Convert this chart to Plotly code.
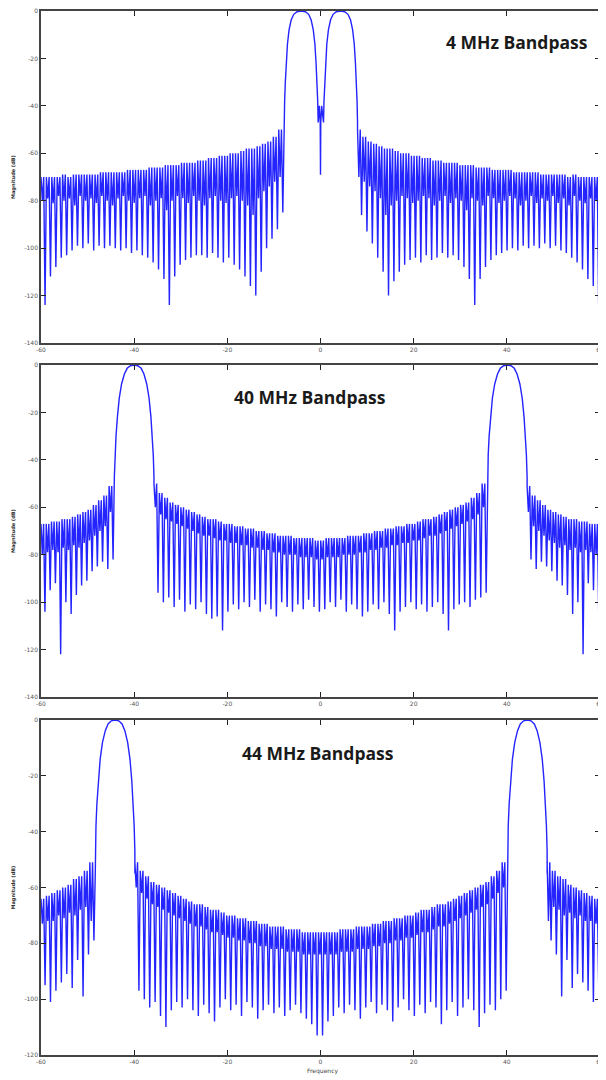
import plotly.graph_objects as go
from plotly.subplots import make_subplots

# ---------------- data ----------------
titles = ["4 MHz Bandpass", "40 MHz Bandpass", "44 MHz Bandpass"]
x_ticks = [-60, -40, -20, 0, 20, 40, 60]
y_ticks_12 = [0, -20, -40, -60, -80, -100, -120, -140]
y_ticks_3 = [0, -20, -40, -60, -80, -100, -120]

# passband lobe shapes: frequency offsets from lobe centre (MHz) and level (dB)
lobe_db = [-47, -38, -30, -22, -14, -8, -3.8, -1.4, -0.3, 0,
           -0.3, -1.4, -3.8, -8, -14, -22, -30, -38, -47]
lobe1_df = [-3.65, -3.55, -3.4, -3.2, -2.95, -2.6, -2.15, -1.6, -0.9, 0,
            0.9, 1.6, 2.15, 2.6, 2.95, 3.2, 3.4, 3.55, 3.65]
lobe23_df = [-4.25, -4.1, -3.9, -3.6, -3.2, -2.7, -2.1, -1.5, -0.8, 0,
             0.8, 1.5, 2.1, 2.7, 3.2, 3.6, 3.9, 4.1, 4.25]

# ---- panel 1 : 4 MHz ----
p1_lobe_centres = [-4.15, 4.3]
p1_notch_f = [-0.25, -0.06, 0.0, 0.06, 0.25]
p1_notch_db = [-40, -47, -69, -47, -40]
p1_left_span = [-60, -7.8]
p1_left_tops = [-70, -70, -70, -70, -69, -70, -69, -69, -69, -69, -69, -68, -68, -68, -68,
                -68, -67, -67, -67, -67, -66, -66, -66, -65, -65, -65, -64, -64, -64, -63,
                -63, -62, -62, -61, -61, -60, -60, -59, -58, -58, -57, -56, -55, -53, -50]
p1_left_dips = [-80, -79, -81, -78, -80, -79, -82, -78, -80, -79, -81, -78, -80, -82, -79,
                -78, -80, -81, -79, -78, -82, -80, -79, -84, -80, -78, -79, -81, -78, -80,
                -82, -79, -78, -80, -81, -79, -78, -80, -82, -86, -79, -76, -74, -72, -70]
p1_left_nulls = [-124, -112, -108, -104, -103, -101, -99, -100, -98, -101, -99, -100, -99, -100, -101,
                 -100, -102, -101, -103, -104, -106, -109, -113, -124, -112, -107, -105, -104, -103, -103,
                 -104, -102, -104, -106, -104, -107, -109, -112, -116, -120, -110, -100, -96, -92, -85]
p1_right_span = [7.95, 60]
p1_right_tops = [-50, -53, -55, -56, -57, -58, -58, -59, -60, -60, -61, -61, -62, -62, -63,
                 -63, -64, -64, -64, -65, -65, -65, -66, -66, -66, -67, -67, -67, -67, -68,
                 -68, -68, -68, -68, -69, -69, -69, -69, -69, -70, -69, -70, -70, -70, -70]
p1_right_dips = [-70, -72, -74, -76, -79, -86, -82, -80, -78, -79, -81, -80, -78, -79, -82,
                 -80, -78, -81, -79, -80, -84, -79, -80, -82, -78, -79, -81, -80, -78, -79,
                 -82, -80, -78, -81, -79, -80, -78, -81, -79, -82, -78, -80, -81, -79, -80]
p1_right_nulls = [-86, -93, -98, -104, -110, -120, -114, -110, -107, -105, -104, -106, -103, -105, -104,
                  -102, -104, -103, -105, -108, -113, -124, -113, -108, -105, -103, -102, -101, -100, -101,
                  -99, -100, -99, -100, -98, -100, -99, -101, -102, -104, -106, -109, -113, -116, -124]

# ---- panel 2 : 40 MHz ----
p2_lobe_centres = [-40.0, 40.1]
p2_left_span = [-60, -44.25]
p2_left_tops = [-67, -67, -66, -66, -65, -65, -64, -63, -62, -61, -59, -57, -55, -51]
p2_left_dips = [-80, -79, -78, -79, -77, -78, -76, -77, -75, -74, -72, -70, -68, -62]
p2_left_nulls = [-104, -95, -92, -122, -100, -105, -97, -93, -91, -87, -85, -83, -86, -82]
p2_mid_span = [-35.75, 35.85]
p2_mid_tops = [-50, -54, -56, -58, -59, -60, -61, -62, -63, -64, -65, -65, -66, -67, -67, -68,
               -68, -69, -69, -70, -70, -71, -71, -72, -72, -72, -73, -73, -73, -73, -74,
               -74, -73, -73, -73, -73, -72, -72, -72, -71, -71, -70, -70, -69, -69, -68, -68,
               -67, -67, -66, -65, -65, -64, -63, -62, -61, -60, -59, -58, -56, -54, -50]
p2_mid_dips = [-60, -63, -65, -66, -67, -68, -69, -70, -71, -72, -72, -73, -74, -74, -75, -75,
               -76, -76, -77, -77, -78, -78, -79, -79, -80, -80, -80, -81, -81, -81, -82,
               -82, -81, -81, -81, -80, -80, -80, -79, -79, -78, -78, -77, -77, -76, -76, -75,
               -75, -74, -74, -73, -72, -72, -71, -70, -69, -68, -67, -66, -65, -63, -60]
p2_mid_nulls = [-96, -100, -98, -102, -99, -104, -101, -103, -100, -105, -107, -106, -112, -104, -101, -103,
                -100, -102, -99, -104, -101, -103, -106, -100, -102, -104, -101, -103, -99, -102, -104,
                -103, -100, -102, -99, -104, -101, -103, -106, -104, -101, -103, -100, -105, -112, -104,
                -102, -100, -103, -101, -104, -102, -100, -105, -112, -103, -101, -100, -102, -99, -98, -96]
p2_right_span = [44.35, 60]
p2_right_tops = [-51, -55, -57, -59, -61, -62, -63, -64, -65, -65, -66, -66, -67, -67]
p2_right_dips = [-62, -68, -70, -72, -74, -75, -77, -76, -78, -77, -79, -78, -79, -80]
p2_right_nulls = [-82, -86, -83, -85, -87, -91, -93, -97, -105, -100, -122, -92, -95, -104]

# ---- panel 3 : 44 MHz ----
p3_lobe_centres = [-44.1, 44.4]
p3_left_span = [-60, -48.35]
p3_left_tops = [-64, -63, -62, -61, -60, -59, -57, -56, -54, -51]
p3_left_dips = [-73, -72, -72, -70, -71, -69, -70, -68, -67, -72]
p3_left_nulls = [-95, -101, -97, -94, -91, -96, -86, -99, -84, -79]
p3_mid_span = [-39.85, 40.15]
p3_mid_tops = [-51, -54, -56, -58, -59, -60, -61, -62, -63, -64, -65, -66, -66, -67, -68, -68, -69,
               -70, -70, -71, -71, -72, -72, -73, -73, -74, -74, -74, -75, -75, -75, -76, -76, -76,
               -76,
               -76, -76, -76, -75, -75, -75, -74, -74, -74, -73, -73, -72, -72, -71, -71, -70, -70,
               -69, -68, -68, -67, -66, -66, -65, -64, -63, -62, -61, -60, -59, -58, -56, -54, -51]
p3_mid_dips = [-60, -62, -64, -66, -67, -68, -69, -70, -71, -72, -73, -74, -74, -75, -76, -76, -77,
               -78, -78, -79, -79, -80, -80, -81, -81, -82, -82, -82, -83, -83, -83, -84, -84, -84,
               -84,
               -84, -84, -84, -83, -83, -83, -82, -82, -82, -81, -81, -80, -80, -79, -79, -78, -78,
               -77, -76, -76, -75, -74, -74, -73, -72, -71, -70, -69, -68, -67, -66, -64, -62, -60]
p3_mid_nulls = [-97, -100, -103, -101, -106, -110, -104, -101, -103, -100, -104, -106, -102, -105, -108, -103, -100,
                -104, -102, -106, -101, -103, -107, -104, -102, -105, -103, -106, -104, -102, -105, -107, -109, -113,
                -113,
                -108, -106, -103, -105, -102, -104, -107, -103, -101, -105, -102, -104, -108, -103, -100, -104, -106,
                -102, -105, -101, -103, -109, -104, -101, -106, -103, -100, -104, -110, -105, -102, -104, -100, -97]
p3_right_span = [48.65, 60]
p3_right_tops = [-51, -54, -56, -57, -59, -60, -61, -62, -63, -64]
p3_right_dips = [-72, -67, -68, -70, -69, -71, -70, -72, -72, -73]
p3_right_nulls = [-79, -84, -99, -86, -96, -91, -94, -97, -101, -95]


# ---------------- helpers ----------------
def sidelobe_region(span, tops, dips, nulls):
    a, b = span
    n = len(tops)
    p = (b - a) / n
    xs, ys = [], []
    for k in range(n):
        xs += [a + k * p, a + (k + 0.25) * p, a + (k + 0.5) * p, a + (k + 0.75) * p]
        ys += [tops[k], dips[k], tops[k], nulls[k]]
    return xs, ys


def lobe(centre, dfs):
    return [centre + d for d in dfs], list(lobe_db)


def build(parts):
    X, Y = [], []
    for xs, ys in parts:
        X += xs
        Y += ys
    return X, Y


x1, y1 = build([
    sidelobe_region(p1_left_span, p1_left_tops, p1_left_dips, p1_left_nulls),
    ([p1_left_span[1]], [-50]),
    lobe(p1_lobe_centres[0], lobe1_df),
    (p1_notch_f, p1_notch_db),
    lobe(p1_lobe_centres[1], lobe1_df),
    sidelobe_region(p1_right_span, p1_right_tops, p1_right_dips, p1_right_nulls),
])
x2, y2 = build([
    sidelobe_region(p2_left_span, p2_left_tops, p2_left_dips, p2_left_nulls),
    lobe(p2_lobe_centres[0], lobe23_df),
    sidelobe_region(p2_mid_span, p2_mid_tops, p2_mid_dips, p2_mid_nulls),
    lobe(p2_lobe_centres[1], lobe23_df),
    sidelobe_region(p2_right_span, p2_right_tops, p2_right_dips, p2_right_nulls),
])
x3, y3 = build([
    sidelobe_region(p3_left_span, p3_left_tops, p3_left_dips, p3_left_nulls),
    ([p3_left_span[1]], [-55]),
    lobe(p3_lobe_centres[0], lobe23_df),
    ([p3_mid_span[0]], [-55]),
    sidelobe_region(p3_mid_span, p3_mid_tops, p3_mid_dips, p3_mid_nulls),
    ([p3_mid_span[1]], [-55]),
    lobe(p3_lobe_centres[1], lobe23_df),
    ([p3_right_span[0]], [-55]),
    sidelobe_region(p3_right_span, p3_right_tops, p3_right_dips, p3_right_nulls),
])

# ---------------- figure ----------------
fig = make_subplots(rows=3, cols=1)
LINE = dict(color="#2424ff", width=1.4)
for i, (xx, yy) in enumerate([(x1, y1), (x2, y2), (x3, y3)], start=1):
    fig.add_trace(go.Scatter(x=xx, y=yy, mode="lines", line=LINE,
                             showlegend=False, hoverinfo="skip"), row=i, col=1)

# the page body adds an 8 px offset; the figure is sized/positioned to compensate
OFF = 8
W, H = 606 - OFF, 1080 - OFF
ml, mr, mt, mb = 41 - OFF, 6, 11 - OFF, 25
ph = H - mt - mb
pw = W - ml - mr


def px_x(page_x):
    return (page_x - OFF - ml) / pw


def px_y(page_y):
    return (H - mb - (page_y - OFF)) / ph


def ydom(top_px, bot_px):
    return [px_y(bot_px), px_y(top_px)]


panels_px = [(11, 343), (365, 697), (720, 1055)]
doms = [ydom(t, b) for t, b in panels_px]
axis_common = dict(showline=True, mirror="ticks", linecolor="#444444", linewidth=1.6,
                   ticks="inside", ticklen=5, tickwidth=1.4, tickcolor="#222222",
                   showgrid=False, zeroline=False, automargin=False,
                   ticklabeloverflow="allow",
                   tickfont=dict(family="DejaVu Sans", size=6, color="#555555"))
for i in range(3):
    xa = "xaxis" if i == 0 else f"xaxis{i+1}"
    ya = "yaxis" if i == 0 else f"yaxis{i+1}"
    fig.layout[xa].update(range=[-60, 60], tickvals=x_ticks, domain=[0, 1],
                          ticktext=[str(v) for v in x_ticks], **axis_common)
    yt = y_ticks_3 if i == 2 else y_ticks_12
    fig.layout[ya].update(range=[yt[-1], 0], tickvals=yt,
                          ticktext=[str(v) for v in yt], domain=doms[i], **axis_common)

title_pos = [(517, 42), (310, 397), (318, 753)]
for (px, py), t in zip(title_pos, titles):
    fig.add_annotation(text=f"<b>{t}</b>", xref="paper", yref="paper",
                       x=px_x(px), y=px_y(py), showarrow=False,
                       xanchor="center", yanchor="middle",
                       font=dict(family="Open Sans", size=17.5, color="#1a1a1a"))

for top, bot in panels_px:
    fig.add_annotation(text="<b>Magnitude (dB)</b>", xref="paper", yref="paper",
                       x=px_x(13), y=px_y((top + bot) / 2), textangle=-90,
                       showarrow=False, xanchor="center", yanchor="middle",
                       font=dict(family="DejaVu Sans", size=5, color="#333333"))

fig.add_annotation(text="Frequency", xref="paper", yref="paper",
                   x=px_x(322), y=px_y(1071), showarrow=False,
                   xanchor="center", yanchor="middle",
                   font=dict(family="DejaVu Sans", size=6, color="#444444"))

fig.update_layout(width=W, height=H, margin=dict(l=ml, r=mr, t=mt, b=mb, autoexpand=False),
                  paper_bgcolor="white", plot_bgcolor="white")
fig.write_html("out.html")
